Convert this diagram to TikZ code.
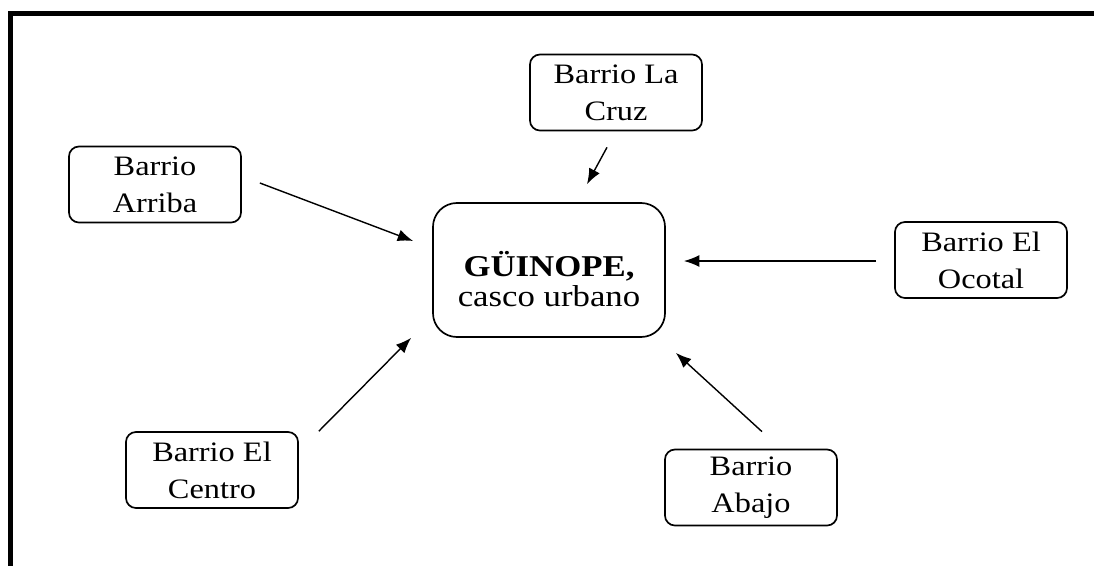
\documentclass[tikz,border=0pt]{standalone}
\usepackage{fontspec}
\setmainfont[FakeStretch=1.15]{Liberation Serif}
\usetikzlibrary{arrows.meta}

\begin{document}
\begin{tikzpicture}[x=0.025cm,y=-0.025cm,
barrio/.style={draw, line width=1.2pt, rounded corners=0.25cm, align=center,
  minimum width=4.3cm, minimum height=1.9cm, inner sep=0pt,
  font=\fontsize{20}{26.2}\selectfont},
hub/.style={draw, line width=1.2pt, rounded corners=0.6cm,
  minimum width=5.8cm, minimum height=3.35cm},
flecha/.style={line width=1pt, -{Latex[length=11pt,width=8.5pt]}}]

\useasboundingbox (0,0) rectangle (1094,566);

% frame, open at right and bottom
\draw[line width=3.6pt] (10.5,566) -- (10.5,13.5) -- (1094,13.5);

\node[hub] (centre) at (549,270) {};
\node[align=center, inner sep=0pt, font=\fontsize{21.5}{21.5}\selectfont] (centrelbl) at (549,279)
  {\textbf{GÜINOPE,}\\casco urbano};

\node[barrio] (arriba) at (155,184.5) {Barrio\\Arriba};
\node[barrio] (lacruz) at (616,92.5) {Barrio La\\Cruz};
\node[barrio] (ocotal) at (981,260) {Barrio El\\Ocotal};
\node[barrio] (centro) at (212,470) {Barrio El\\Centro};
\node[barrio] (abajo) at (751,487.5) {Barrio\\Abajo};

% arrows towards the town centre
\draw[flecha] ([shift={(18,-1.5)}]arriba.east) -- ([shift={(-19,-29)}]centre.west);
\draw[flecha] ([shift={(-9,16)}]lacruz.south) -- ([shift={(38,-18)}]centre.north);
\draw[flecha] ([shift={(-18,1)}]ocotal.west) -- ([shift={(18,-9)}]centre.east);
\draw[flecha] ([shift={(20,0)}]centro.north east) -- ([shift={(-21,0)}]centre.south west);
\draw[flecha] ([shift={(11,-17)}]abajo.north) -- ([shift={(10,15)}]centre.south east);

\end{tikzpicture}
\end{document}
